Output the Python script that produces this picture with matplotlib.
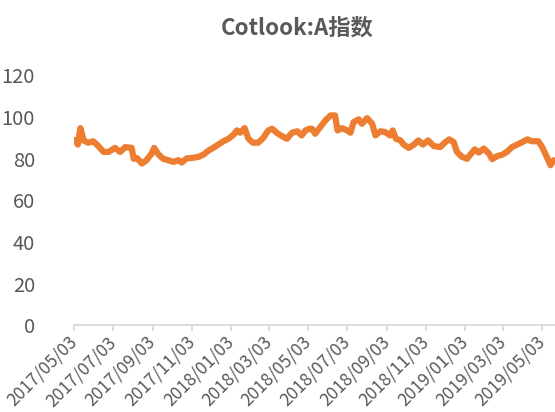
import matplotlib
matplotlib.use("Agg")
import matplotlib.pyplot as plt
import pandas as pd

plt.rcParams['font.family'] = ['Noto Sans CJK SC', 'DejaVu Sans']

title = "Cotlook:A指数"

dates = [
    "2017-05-05", "2017-05-09", "2017-05-13", "2017-05-18", "2017-05-25",
    "2017-06-02", "2017-06-10", "2017-06-18", "2017-06-26", "2017-07-06",
    "2017-07-14", "2017-07-22", "2017-08-01", "2017-08-04", "2017-08-09",
    "2017-08-17", "2017-08-24", "2017-09-01", "2017-09-05", "2017-09-12",
    "2017-09-19", "2017-09-27", "2017-10-05", "2017-10-13", "2017-10-18",
    "2017-10-26", "2017-11-03", "2017-11-13", "2017-11-21", "2017-11-29",
    "2017-12-06", "2017-12-14", "2017-12-22", "2017-12-30",
    "2018-01-07", "2018-01-12", "2018-01-17", "2018-01-24", "2018-01-30",
    "2018-02-06", "2018-02-14", "2018-02-21", "2018-03-02", "2018-03-08",
    "2018-03-15", "2018-03-23", "2018-03-31", "2018-04-08", "2018-04-16",
    "2018-04-23", "2018-04-29", "2018-05-05", "2018-05-09", "2018-05-14",
    "2018-05-22", "2018-05-30", "2018-06-07", "2018-06-14", "2018-06-18",
    "2018-06-25", "2018-07-03", "2018-07-08", "2018-07-13", "2018-07-21",
    "2018-07-26", "2018-08-03", "2018-08-11", "2018-08-16", "2018-08-24",
    "2018-08-31", "2018-09-08", "2018-09-12", "2018-09-17", "2018-09-24",
    "2018-09-29", "2018-10-07", "2018-10-15", "2018-10-22", "2018-10-29",
    "2018-11-06", "2018-11-15", "2018-11-25", "2018-12-03", "2018-12-09",
    "2018-12-16", "2018-12-21", "2018-12-29",
    "2019-01-06", "2019-01-11", "2019-01-18", "2019-01-24", "2019-02-01",
    "2019-02-09", "2019-02-14", "2019-02-22", "2019-03-02", "2019-03-09",
    "2019-03-17", "2019-03-25", "2019-04-02", "2019-04-10", "2019-04-17",
    "2019-04-27", "2019-05-03", "2019-05-09", "2019-05-16", "2019-05-21",
]

values = [
    89.0, 86.8, 94.7, 88.8, 87.7,
    88.4, 86.1, 83.3, 83.3, 85.2,
    83.3, 85.6, 85.2, 80.0, 80.4,
    77.7, 79.3, 82.5, 85.2, 82.0,
    80.0, 79.3, 78.5, 79.3, 78.2,
    80.2, 80.4, 80.9, 82.0, 84.0,
    85.2, 86.8, 88.4, 89.6,
    91.6, 93.6, 92.5, 94.7, 89.6,
    87.7, 87.7, 89.6, 93.6, 94.4,
    92.5, 90.9, 89.6, 92.5, 93.2,
    91.2, 93.6, 94.4, 94.4, 92.0,
    95.2, 98.4, 100.8, 100.8, 93.6,
    94.7, 93.6, 92.5, 97.6, 98.9,
    96.8, 99.5, 96.8, 91.2, 93.2,
    92.8, 91.2, 93.6, 89.6, 88.8,
    86.8, 85.2, 86.8, 88.8, 86.8,
    88.8, 86.1, 85.6, 88.0, 89.3,
    88.0, 83.3, 80.9,
    80.0, 82.0, 84.5, 83.0, 84.9,
    82.5, 79.8, 81.3, 82.0, 83.3,
    85.6, 86.8, 88.0, 89.3, 88.4,
    88.4, 85.6, 81.7, 76.9, 79.3,
]

tick_labels = [
    "2017/05/03", "2017/07/03", "2017/09/03", "2017/11/03",
    "2018/01/03", "2018/03/03", "2018/05/03", "2018/07/03",
    "2018/09/03", "2018/11/03", "2019/01/03", "2019/03/03", "2019/05/03",
]
y_ticks = [0, 20, 40, 60, 80, 100, 120]

x = pd.to_datetime(dates)
tick_pos = pd.to_datetime(tick_labels, format="%Y/%m/%d")

fig = plt.figure(figsize=(5.55, 4.12), dpi=100)
ax = fig.add_axes([0.1333, 0.21, 0.8667, 0.607])

ax.plot(x, values, color="#ED7D31", linewidth=4.5, solid_joinstyle="round",
        solid_capstyle="round")

ax.set_ylim(0, 120)
ax.set_yticks(y_ticks)
ax.set_xlim(pd.Timestamp("2017-05-03"), pd.Timestamp("2019-05-23"))
ax.set_xticks(tick_pos)
ax.set_xticklabels(tick_labels, rotation=45, ha="right", va="center",
                   rotation_mode="anchor")

for s in ("top", "right", "left"):
    ax.spines[s].set_visible(False)
ax.spines["bottom"].set_color("#D9D9D9")
ax.spines["bottom"].set_linewidth(1.3)

ax.tick_params(axis="x", colors="#D9D9D9", length=4, width=1.3,
               labelcolor="#595959", labelsize=12.5, pad=6)
ax.tick_params(axis="y", length=0, labelcolor="#595959", labelsize=14.5, pad=28)

fig.text(0.5346, 0.932, title, ha="center", va="center", fontsize=16,
         fontweight="bold", color="#595959")

fig.savefig("out.png", dpi=100)
